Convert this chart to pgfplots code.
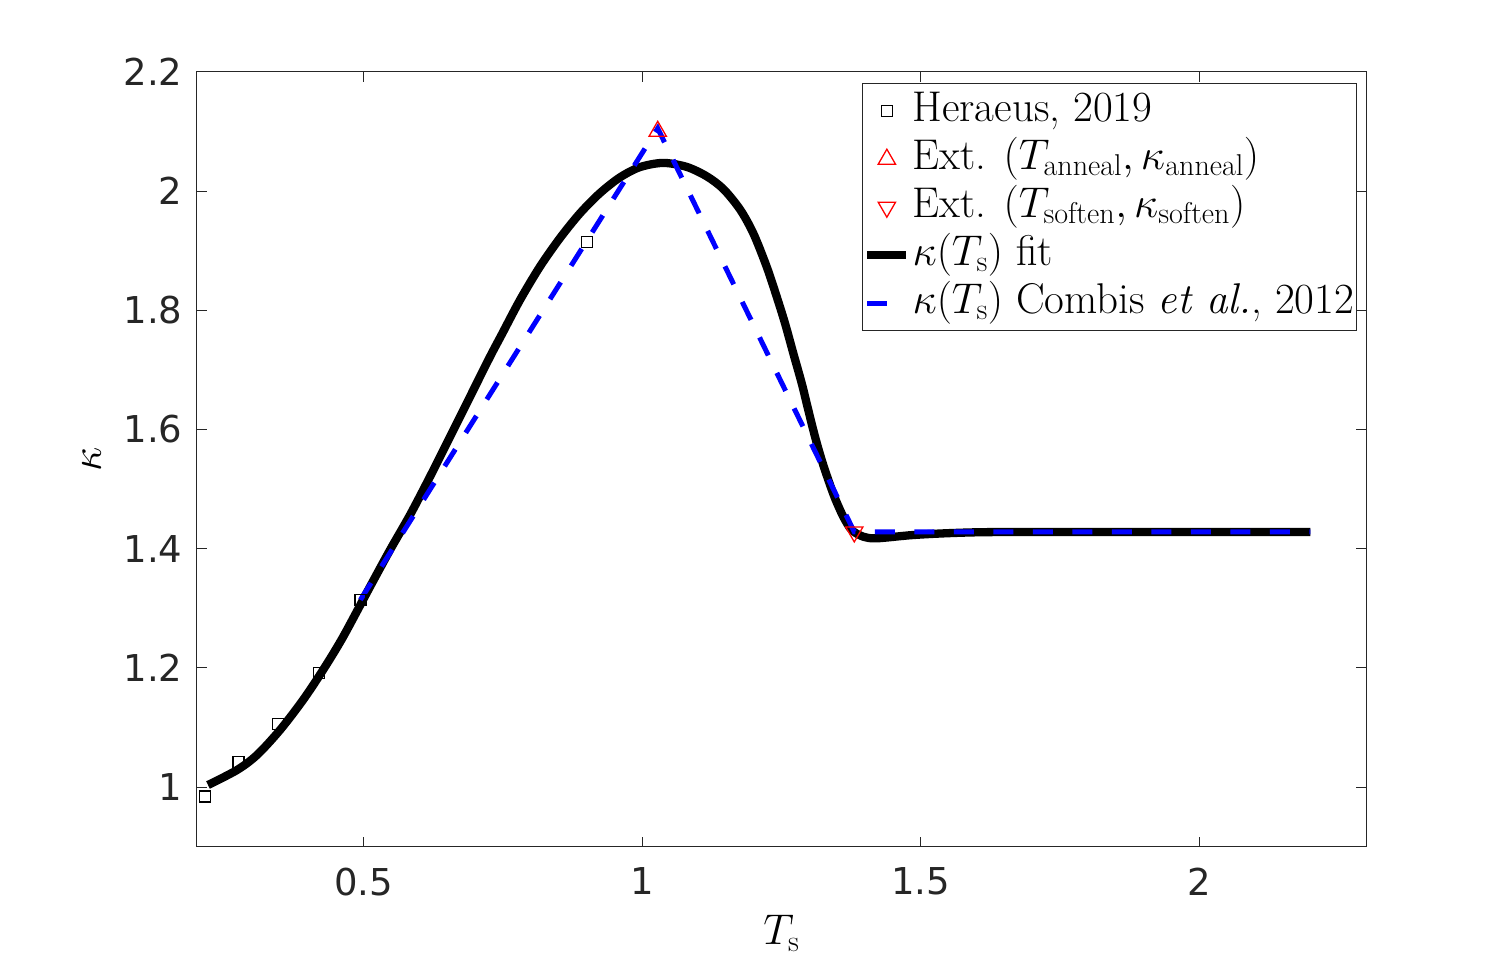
\RequirePackage{fix-cm}
\documentclass[border=0pt]{standalone}
\usepackage{fontspec}
\usepackage{pgfplots}
\pgfplotsset{compat=1.18}
\newfontfamily\dejavu{DejaVu Sans}
\definecolor{axgray}{HTML}{262626}
\pgfplotsset{
  sqleg/.style={legend image code/.code={\path (0bp,0bp) (39bp,0bp); \draw[black, line width=1.3bp, mark=square, mark size=5.5bp] plot coordinates {(19.5bp,0bp)};}},
  upleg/.style={legend image code/.code={\path (0bp,0bp) (39bp,0bp); \draw[red, line width=1.3bp, mark=triangle, mark size=10bp] plot coordinates {(19.5bp,0bp)};}},
  dnleg/.style={legend image code/.code={\path (0bp,0bp) (39bp,0bp); \draw[red, line width=1.3bp, mark=triangle, mark size=10bp, mark options={rotate=180}] plot coordinates {(19.5bp,0bp)};}},
  fitleg/.style={legend image code/.code={\draw[black, line width=8.3bp] (0bp,0bp) -- (39bp,0bp);}},
  dashleg/.style={legend image code/.code={\draw[blue, line width=5bp] (0bp,0bp) -- (20bp,0bp); \path (0bp,0bp) (39bp,0bp);}},
}
\begin{document}
\begin{tikzpicture}
\useasboundingbox (0,0) rectangle (1510bp,961bp);
\begin{axis}[
  at={(196.7bp,114.3bp)}, anchor=south west,
  scale only axis, width=1169.3bp, height=775bp,
  xmin=0.2, xmax=2.3, ymin=0.9, ymax=2.2,
  xtick={0.5,1,1.5,2}, xticklabels={0.5,1,1.5,2},
  ytick={1,1.2,1.4,1.6,1.8,2,2.2}, yticklabels={1,1.2,1.4,1.6,1.8,2,2.2},
  tick align=inside, major tick length=10bp,
  axis line style={axgray, line width=0.8bp},
  every tick/.style={axgray, line width=0.8bp},
  tick label style={font=\dejavu\fontsize{37bp}{44bp}\selectfont, text=axgray, inner sep=0pt},
  xticklabel style={anchor=north, yshift=-21bp},
  yticklabel style={anchor=east, xshift=-14bp},
  xlabel={$T_{\mathrm{s}}$}, ylabel={$\kappa$},
  label style={font=\fontsize{43bp}{50bp}\selectfont, inner sep=0pt},
  xlabel style={at={(axis description cs:0.5,-0.1265)}, anchor=base},
  ylabel style={at={(axis description cs:-0.0898,0.5)}, anchor=center},
  legend style={at={(0.9923,0.985)}, anchor=north east, draw=axgray, line width=0.8bp, fill=white,
    inner xsep=0.5bp, inner ysep=3.5bp, font=\fontsize{43bp}{50bp}\selectfont,
    nodes={inner xsep=2bp, inner ysep=0pt, text height=34bp, text depth=14bp},
    row sep=0pt, /tikz/every even column/.style={column sep=0pt}, /tikz/every odd column/.style={column sep=0pt}},
  legend cell align=left,
]
\addplot[only marks, mark=square, mark size=5.5bp, mark options={black, line width=1.3bp}, sqleg]
  coordinates {(0.215,0.984) (0.275,1.042) (0.346,1.106) (0.420,1.191) (0.494,1.314) (0.901,1.914)};
\addlegendentry{Heraeus, 2019}
\addplot[only marks, mark=triangle, mark size=10bp, mark options={red, line width=1.3bp}, upleg]
  coordinates {(1.028,2.100)};
\addlegendentry{Ext. $(T_{\mathrm{anneal}},\kappa_{\mathrm{anneal}})$}
\addplot[only marks, mark=triangle, mark size=10bp, mark options={red, line width=1.3bp, rotate=180}, dnleg]
  coordinates {(1.381,1.428)};
\addlegendentry{Ext. $(T_{\mathrm{soften}},\kappa_{\mathrm{soften}})$}
\addplot[black, line width=8.3bp, smooth, line join=round, fitleg]
  coordinates {
(0.2203,1.0035) (0.2724,1.0286) (0.3083,1.0538) (0.3496,1.0957) (0.3909,1.1460)
(0.4268,1.1963) (0.4628,1.2517) (0.5113,1.3361) (0.5472,1.3977) (0.5831,1.4564)
(0.6190,1.5206) (0.6550,1.5877) (0.6909,1.6548) (0.7268,1.7219) (0.7478,1.7590)
(0.7806,1.8170) (0.8166,1.8732) (0.8525,1.9210) (0.8884,1.9625) (0.9244,1.9965)
(0.9603,2.0228) (0.9962,2.0400) (1.0380,2.0470) (1.0800,2.0403) (1.1160,2.0245)
(1.1458,2.0033) (1.1758,1.9690) (1.1997,1.9288) (1.2237,1.8728) (1.2417,1.8225)
(1.2566,1.7779) (1.2715,1.7276) (1.2866,1.6773) (1.2984,1.6325) (1.3105,1.5877)
(1.3225,1.5486) (1.3344,1.5151) (1.3464,1.4844) (1.3613,1.4535) (1.3764,1.4312)
(1.3972,1.4200) (1.4213,1.4173) (1.4866,1.4228) (1.5584,1.4262) (1.6428,1.4278)
(1.9,1.428) (2.2,1.428)};
\addlegendentry{$\kappa(T_{\mathrm{s}})$ fit}
\addplot[blue, line width=5bp, dash pattern=on 20bp off 19.5bp, dashleg]
  coordinates {(0.494,1.314) (1.028,2.105) (1.381,1.428) (2.2,1.428)};
\addlegendentry{$\kappa(T_{\mathrm{s}})$ Combis \textit{et al.}, 2012}
\end{axis}
\end{tikzpicture}
\end{document}
